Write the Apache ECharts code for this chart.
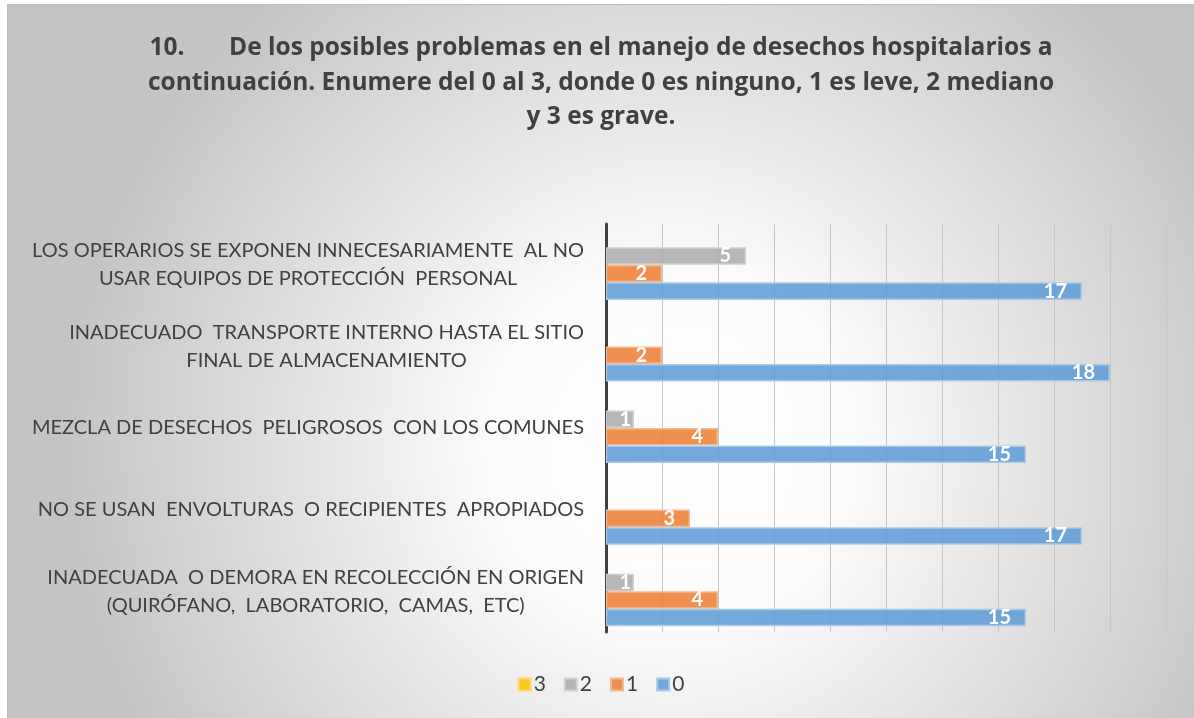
<!DOCTYPE html>
<html>
<head>
<meta charset="utf-8">
<script src="https://cdn.jsdelivr.net/npm/echarts@6/dist/echarts.min.js"></script>
<style>
	html, body { margin: 0; padding: 0; background: #fff; }
	#chart {
		position: absolute; left: 7px; top: 4px;
		width: 1186px; height: 713px;
		border-left: 1px solid #bcbcbc; border-top: 1px solid #bcbcbc;
	}
</style>
</head>
<body>
<div id="chart"></div>
<script>
// categories, bottom to top (Excel order)
const categories = [
	"INADECUADA  O DEMORA EN RECOLECCIÓN EN ORIGEN\n(QUIRÓFANO,  LABORATORIO,  CAMAS,  ETC)",
	"NO SE USAN  ENVOLTURAS  O RECIPIENTES  APROPIADOS",
	"MEZCLA DE DESECHOS  PELIGROSOS  CON LOS COMUNES",
	"INADECUADO  TRANSPORTE INTERNO HASTA EL SITIO\nFINAL DE ALMACENAMIENTO",
	"LOS OPERARIOS SE EXPONEN INNECESARIAMENTE  AL NO\nUSAR EQUIPOS DE PROTECCIÓN  PERSONAL",
];
// listed top-to-bottom inside each category band
const seriesNames = ["3", "2", "1", "0"];
const values3 = [null, null, null, null, null];
const values2 = [1, null, 1, null, 5];
const values1 = [4, 3, 4, 2, 2];
const values0 = [15, 17, 15, 18, 17];

const fills = ["rgba(255,192,0,0.85)", "rgba(165,165,165,0.8)", "rgba(237,125,49,0.85)", "rgba(91,155,213,0.85)"];
const borders = ["#ffd966", "#cfcfcf", "#f5b98f", "#a9c9e8"];
const allValues = [values3, values2, values1, values0];

const chart = echarts.init(document.getElementById("chart"));

chart.setOption({
	animation: false,
	backgroundColor: {
		type: "radial", x: 0.56, y: 0.62, r: 0.85,
		colorStops: [
			{ offset: 0, color: "#ffffff" },
			{ offset: 0.3, color: "#fbfbfb" },
			{ offset: 1, color: "#c4c4c4" },
		],
	},
	title: {
		text: "10.       De los posibles problemas en el manejo de desechos hospitalarios a\ncontinuación. Enumere del 0 al 3, donde 0 es ninguno, 1 es leve, 2 mediano\ny 3 es grave.",
		left: "center",
		top: 21,
		textStyle: {
			fontFamily: "Open Sans",
			fontWeight: "bold",
			fontSize: 24.5,
			lineHeight: 34.5,
			color: "#404040",
		},
	},
	legend: {
		data: seriesNames,
		bottom: 18,
		left: "center",
		icon: "rect",
		itemWidth: 12,
		itemHeight: 12,
		itemGap: 18,
		textStyle: { fontFamily: "Lato", fontSize: 21, color: "#404040", padding: [0, 0, 0, -2] },
	},
	grid: { left: 598, right: 28, top: 219, bottom: 86 },
	xAxis: {
		type: "value",
		min: 0,
		max: 20,
		interval: 2,
		axisLabel: { show: false },
		axisLine: { show: false },
		axisTick: { show: false },
		splitLine: { show: true, lineStyle: { color: "#c6c6c6", width: 1 } },
	},
	yAxis: {
		type: "category",
		data: categories,
		axisTick: { show: false },
		axisLine: { show: true, lineStyle: { color: "#404040", width: 3 } },
		axisLabel: {
			margin: 22,
			align: "right",
			formatter: v => v.split("\n").map(l => "{c|" + l + "}").join("\n"),
			rich: {
				c: { align: "center", fontFamily: "Lato", fontSize: 20, lineHeight: 28, color: "#404040" },
			},
		},
	},
	series: seriesNames.map((name, i) => ({
		name: name,
		type: "bar",
		// short bars keep their label tucked against the end
		data: allValues[i].map(v => (v !== null && v < 2 ? { value: v, label: { distance: 3 } } : v)),
		barGap: "0%",
		barCategoryGap: "14%",
		itemStyle: { color: fills[i], borderColor: borders[i], borderWidth: 1.5 },
		label: {
			show: true,
			position: "insideRight",
			distance: 15,
			color: "#ffffff",
			fontFamily: "Lato",
			fontWeight: "bold",
			fontSize: 20,
		},
	})),
});
</script>
</body>
</html>
